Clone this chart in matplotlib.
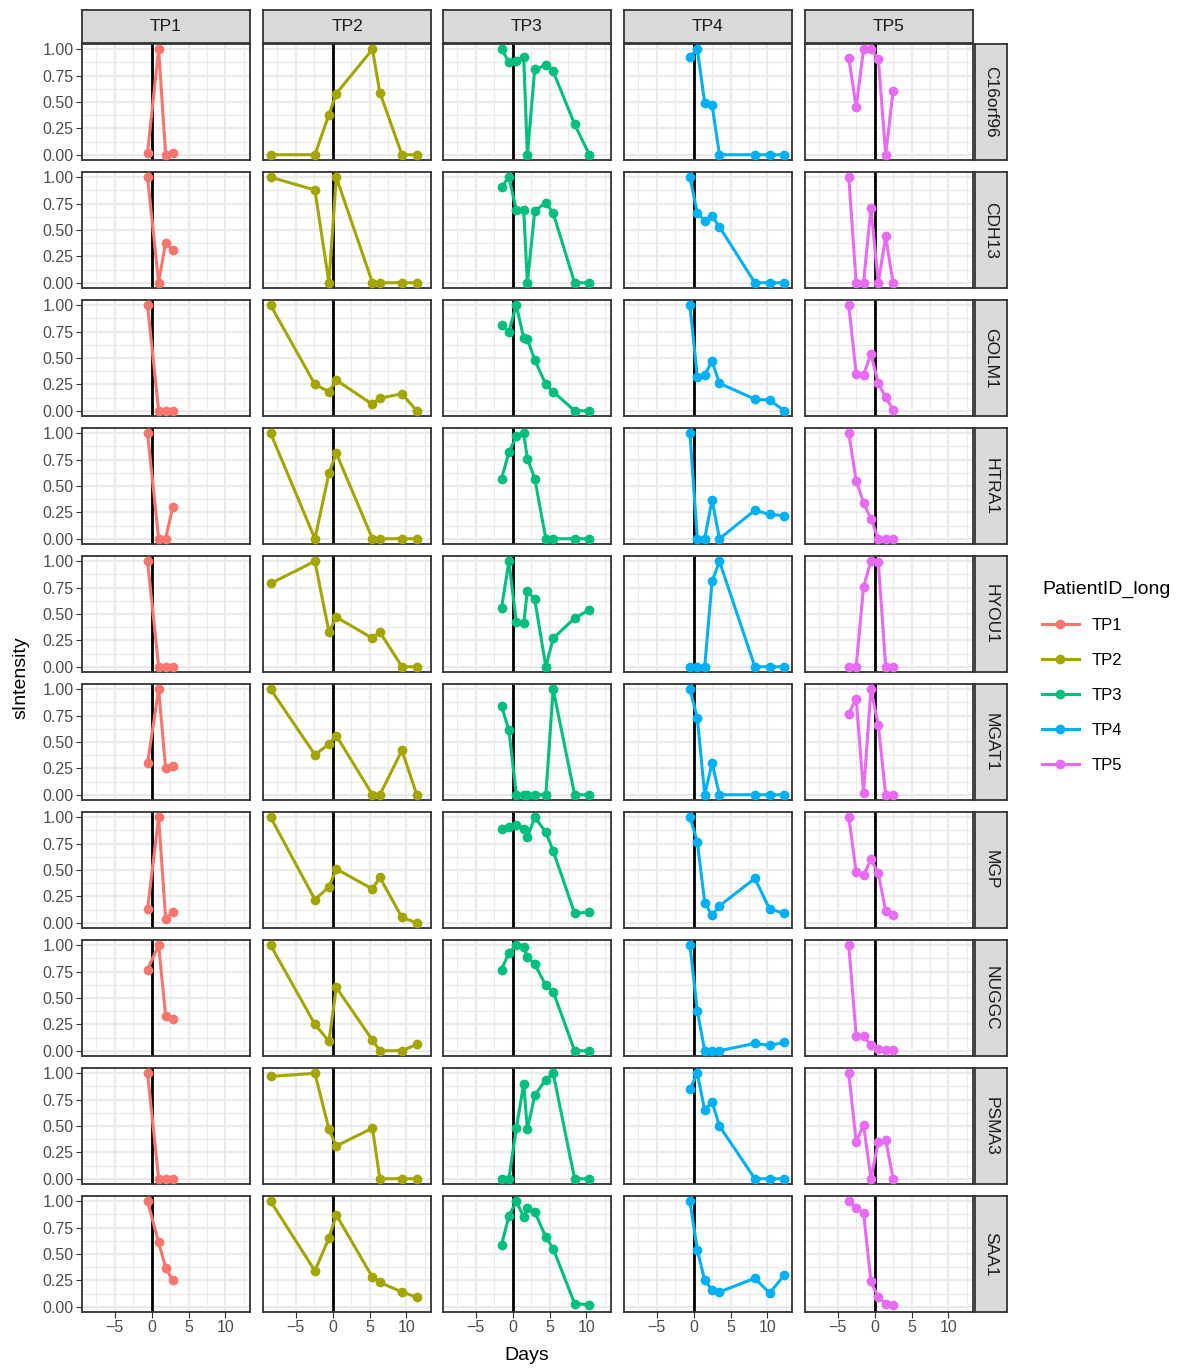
import numpy as np
import matplotlib
matplotlib.use("Agg")
import matplotlib.pyplot as plt
from matplotlib.lines import Line2D

plt.rcParams['font.family'] = ['Liberation Sans', 'DejaVu Sans']

# === DATA ===
genes = ["C16orf96", "CDH13", "GOLM1", "HTRA1", "HYOU1",
         "MGAT1", "MGP", "NUGGC", "PSMA3", "SAA1"]
patients = ["TP1", "TP2", "TP3", "TP4", "TP5"]
colors = ["#F8766D", "#A3A500", "#00BF7D", "#00B0F6", "#E76BF3"]

tp1_days = [-0.55, 0.95, 1.9, 2.85]
tp1_vals = [
    [0.02, 1.00, 0.00, 0.02],
    [1.00, 0.00, 0.38, 0.31],
    [1.00, 0.00, 0.00, 0.00],
    [1.00, 0.00, 0.00, 0.30],
    [1.00, 0.00, 0.00, 0.00],
    [0.30, 1.00, 0.25, 0.27],
    [0.13, 1.00, 0.04, 0.10],
    [0.77, 1.00, 0.33, 0.30],
    [1.00, 0.00, 0.00, 0.00],
    [1.00, 0.61, 0.37, 0.25],
]

tp2_days = [-8.4, -2.4, -0.5, 0.5, 5.4, 6.4, 9.4, 11.4]
tp2_vals = [
    [0.00, 0.00, 0.38, 0.58, 1.00, 0.59, 0.00, 0.00],
    [1.00, 0.88, 0.00, 1.00, 0.00, 0.00, 0.00, 0.00],
    [1.00, 0.25, 0.18, 0.29, 0.06, 0.12, 0.16, 0.00],
    [1.00, 0.00, 0.62, 0.81, 0.00, 0.00, 0.00, 0.00],
    [0.79, 1.00, 0.33, 0.47, 0.27, 0.33, 0.00, 0.00],
    [1.00, 0.38, 0.48, 0.56, 0.00, 0.00, 0.42, 0.00],
    [1.00, 0.22, 0.34, 0.51, 0.32, 0.43, 0.05, 0.00],
    [1.00, 0.25, 0.09, 0.60, 0.10, 0.00, 0.00, 0.06],
    [0.97, 1.00, 0.47, 0.31, 0.48, 0.00, 0.00, 0.00],
    [1.00, 0.34, 0.65, 0.87, 0.28, 0.23, 0.14, 0.09],
]

tp3_days = [-1.5, -0.5, 0.5, 1.5, 2.0, 3.0, 4.5, 5.5, 8.4, 10.4]
tp3_vals = [
    [1.00, 0.88, 0.89, 0.93, 0.00, 0.81, 0.85, 0.79, 0.29, 0.00],
    [0.91, 1.00, 0.69, 0.69, 0.00, 0.68, 0.76, 0.66, 0.00, 0.00],
    [0.81, 0.75, 1.00, 0.69, 0.68, 0.48, 0.25, 0.18, 0.00, 0.00],
    [0.57, 0.82, 0.97, 1.00, 0.76, 0.57, 0.00, 0.00, 0.00, 0.00],
    [0.56, 1.00, 0.42, 0.41, 0.72, 0.64, 0.00, 0.27, 0.46, 0.54],
    [0.84, 0.61, 0.00, 0.00, 0.00, 0.00, 0.00, 1.00, 0.00, 0.00],
    [0.89, 0.91, 0.93, 0.89, 0.81, 1.00, 0.86, 0.68, 0.09, 0.10],
    [0.77, 0.93, 1.00, 0.98, 0.89, 0.82, 0.62, 0.56, 0.00, 0.00],
    [0.00, 0.00, 0.48, 0.90, 0.47, 0.79, 0.94, 1.00, 0.00, 0.00],
    [0.59, 0.86, 1.00, 0.85, 0.94, 0.90, 0.66, 0.55, 0.03, 0.02],
]

tp4_days = [-0.5, 0.5, 1.5, 2.5, 3.5, 8.3, 10.3, 12.3]
tp4_vals = [
    [0.93, 1.00, 0.49, 0.47, 0.00, 0.00, 0.00, 0.00],
    [1.00, 0.66, 0.59, 0.63, 0.53, 0.00, 0.00, 0.00],
    [1.00, 0.32, 0.34, 0.47, 0.26, 0.11, 0.10, 0.00],
    [1.00, 0.00, 0.00, 0.37, 0.00, 0.27, 0.23, 0.22],
    [0.00, 0.00, 0.00, 0.81, 1.00, 0.00, 0.00, 0.00],
    [1.00, 0.73, 0.00, 0.30, 0.00, 0.00, 0.00, 0.00],
    [1.00, 0.77, 0.19, 0.07, 0.16, 0.42, 0.13, 0.09],
    [1.00, 0.38, 0.00, 0.00, 0.00, 0.07, 0.05, 0.08],
    [0.85, 1.00, 0.65, 0.73, 0.50, 0.00, 0.00, 0.00],
    [1.00, 0.54, 0.25, 0.16, 0.14, 0.27, 0.13, 0.30],
]

tp5_days = [-3.5, -2.5, -1.5, -0.5, 0.5, 1.5, 2.5]
tp5_vals = [
    [0.92, 0.45, 1.00, 1.00, 0.91, 0.00, 0.60],
    [1.00, 0.00, 0.00, 0.71, 0.00, 0.44, 0.00],
    [1.00, 0.35, 0.34, 0.54, 0.26, 0.13, 0.01],
    [1.00, 0.55, 0.34, 0.19, 0.00, 0.00, 0.00],
    [0.00, 0.00, 0.76, 1.00, 0.99, 0.00, 0.00],
    [0.77, 0.91, 0.02, 1.00, 0.66, 0.00, 0.00],
    [1.00, 0.48, 0.45, 0.60, 0.47, 0.11, 0.07],
    [1.00, 0.14, 0.14, 0.05, 0.02, 0.01, 0.01],
    [1.00, 0.35, 0.51, 0.00, 0.35, 0.37, 0.00],
    [1.00, 0.94, 0.89, 0.24, 0.09, 0.03, 0.02],
]

all_days = [tp1_days, tp2_days, tp3_days, tp4_days, tp5_days]
all_vals = [tp1_vals, tp2_vals, tp3_vals, tp4_vals, tp5_vals]

# === LAYOUT (pixels) ===
W, H = 1196, 1372
col_left = [82, 263, 443, 624, 805]
panel_w = 168
row_top0 = 44
row_step = 128
panel_h = 116
strip_h = 33
strip_w = 32

fig = plt.figure(figsize=(W / 100, H / 100), dpi=100)


def px_axes(x0, y0, w, h):
    return fig.add_axes([x0 / W, 1 - (y0 + h) / H, w / W, h / H])


dmin = min(min(d) for d in all_days)
dmax = max(max(d) for d in all_days)
pad = 0.05 * (dmax - dmin)
xlim = (dmin - pad, dmax + pad)

grid_c = "#EBEBEB"
border_c = "#333333"
lw_line = 2.2
ms_pt = 6.0

for r, gene in enumerate(genes):
    top = row_top0 + r * row_step
    for c, pid in enumerate(patients):
        ax = px_axes(col_left[c], top, panel_w, panel_h)
        ax.set_xlim(*xlim)
        ax.set_ylim(-0.05, 1.05)
        ax.set_xticks([-5, 0, 5, 10])
        ax.set_xticks([-7.5, -2.5, 2.5, 7.5, 12.5], minor=True)
        ax.set_yticks([0, 0.25, 0.5, 0.75, 1.0])
        ax.set_yticks([0.125, 0.375, 0.625, 0.875], minor=True)
        ax.grid(True, which="major", color=grid_c, lw=1.6)
        ax.grid(True, which="minor", color=grid_c, lw=0.8)
        ax.set_axisbelow(True)
        for s in ax.spines.values():
            s.set_color(border_c)
            s.set_linewidth(1.3)
        ax.axvline(0, color="black", lw=2.0, zorder=2)
        ax.plot(all_days[c], all_vals[c][r], color=colors[c], lw=lw_line,
                marker="o", ms=ms_pt, zorder=3, clip_on=False)
        ax.tick_params(which="both", length=0)
        ax.tick_params(which="major", length=4, color=border_c,
                       labelsize=11.5, labelcolor="#4D4D4D", pad=2)
        if c == 0:
            ax.set_yticklabels(["0.00", "0.25", "0.50", "0.75", "1.00"])
        else:
            ax.tick_params(axis="y", which="major", labelleft=False, length=0)
        if r == len(genes) - 1:
            ax.set_xticklabels(["\u22125", "0", "5", "10"])
        else:
            ax.tick_params(axis="x", which="major", labelbottom=False, length=0)

        if r == 0:
            sax = px_axes(col_left[c], row_top0 - strip_h - 1, panel_w, strip_h)
            sax.set_facecolor("#D9D9D9")
            sax.set_xticks([])
            sax.set_yticks([])
            for s in sax.spines.values():
                s.set_color(border_c)
                s.set_linewidth(1.3)
            sax.text(0.5, 0.5, pid, ha="center", va="center", fontsize=12.5,
                     color="#1A1A1A", transform=sax.transAxes)
        if c == len(patients) - 1:
            sax = px_axes(col_left[c] + panel_w + 2, top, strip_w, panel_h)
            sax.set_facecolor("#D9D9D9")
            sax.set_xticks([])
            sax.set_yticks([])
            for s in sax.spines.values():
                s.set_color(border_c)
                s.set_linewidth(1.3)
            sax.text(0.5, 0.5, gene, ha="center", va="center", fontsize=12.5,
                     rotation=-90, color="#1A1A1A", transform=sax.transAxes)

# axis titles
fig.text(21 / W, 1 - 678 / H, "sIntensity", rotation=90, ha="center",
         va="center", fontsize=14)
fig.text(527 / W, 1 - 1355 / H, "Days", ha="center", va="center", fontsize=14)

# legend
handles = [Line2D([0], [0], color=col, lw=lw_line, marker="o", ms=ms_pt)
           for col in colors]
leg = fig.legend(handles, patients, title="PatientID_long", loc="upper left",
                 bbox_to_anchor=(1027 / W, 1 - 566 / H), frameon=False,
                 fontsize=12, title_fontsize=14, labelspacing=1.2,
                 handlelength=2.2, handletextpad=0.8)
leg._legend_box.align = "left"

fig.savefig("out.png", dpi=100)
